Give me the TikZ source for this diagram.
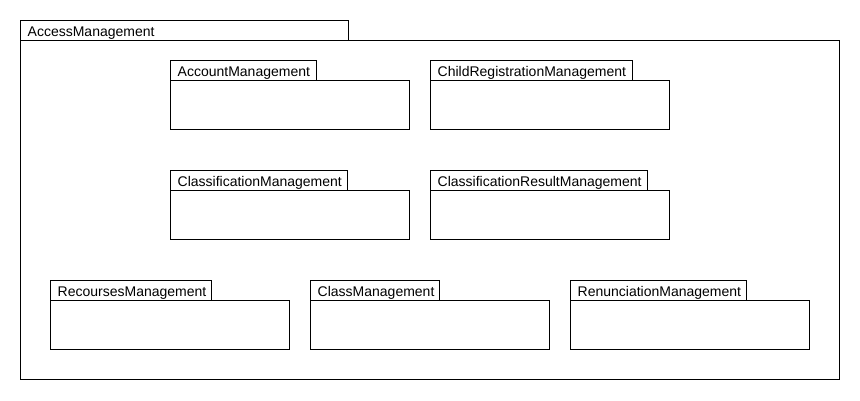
\documentclass[tikz,border=0pt]{standalone}
\usepackage{fontspec}
\setmainfont{Liberation Sans}
\newcommand\pkgbox[6]{% x, y, tabright, width, name, label
  \draw[pkgline] (#1,#2) rectangle (#3,#2+20);
  \draw[pkgline] (#1,#2+20) rectangle (#1+#4,#2+69);
  \node[pkglabel] (#5) at (#1+7.5,#2+16) {#6};
}
\begin{document}
\begin{tikzpicture}[x=1pt,y=-1pt,
  pkgline/.style={draw=black,line width=1pt},
  pkglabel/.style={anchor=base west,inner sep=0pt,font=\fontsize{14}{16}\selectfont}]
\useasboundingbox[fill=white] (0,0) rectangle (860,400);
% outer package
\draw[pkgline] (20,20) rectangle (348,40);
\draw[pkgline] (20,40) rectangle (839,379);
\node[pkglabel] (access) at (27.5,36) {AccessManagement};
\pkgbox{170}{60}{316}{239}{acc}{AccountManagement}
\pkgbox{430}{60}{632}{239}{child}{ChildRegistrationManagement}
\pkgbox{170}{170}{347}{239}{classif}{ClassificationManagement}
\pkgbox{430}{170}{647}{239}{classres}{ClassificationResultManagement}
\pkgbox{50}{280}{211}{239}{rec}{RecoursesManagement}
\pkgbox{310}{280}{439}{239}{cls}{ClassManagement}
\pkgbox{570}{280}{746}{239}{ren}{RenunciationManagement}
\end{tikzpicture}
\end{document}
